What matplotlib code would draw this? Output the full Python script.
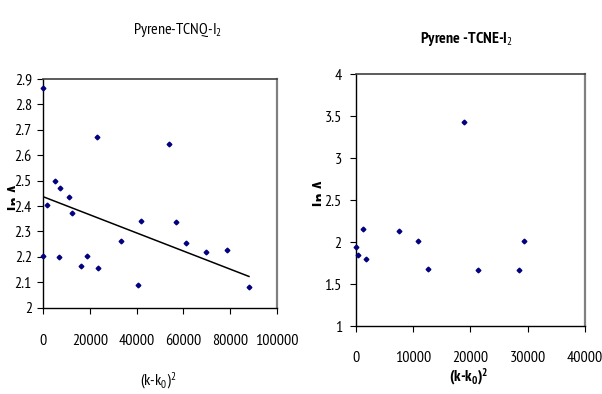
import matplotlib
matplotlib.use("Agg")
import matplotlib.pyplot as plt
from matplotlib import font_manager as fm
from matplotlib.patches import Rectangle

# ---------------- data ----------------
tcnq_x = [0, 0, 1570, 5280, 6990, 7420, 11130, 12410, 16400, 18830, 23110, 23680,
          33380, 40660, 41800, 53920, 56630, 60910, 69470, 78740, 88020]
tcnq_y = [2.866, 2.202, 2.404, 2.497, 2.199, 2.471, 2.434, 2.374, 2.165, 2.203, 2.670,
          2.156, 2.261, 2.089, 2.343, 2.645, 2.337, 2.253, 2.219, 2.226, 2.080]
tcnq_trend_x = [0, 88020]
tcnq_trend_y = [2.437, 2.123]

tcne_x = [0, 465, 1280, 1860, 7560, 10810, 12560, 18900, 21400, 28430, 29420]
tcne_y = [1.944, 1.845, 2.155, 1.798, 2.131, 2.012, 1.683, 3.433, 1.663, 1.671, 2.008]

left_xticks = [0, 20000, 40000, 60000, 80000, 100000]
left_xticklabels = ["0", "20000", "40000", "60000", "80000", "100000"]
left_yticks = [2.0, 2.1, 2.2, 2.3, 2.4, 2.5, 2.6, 2.7, 2.8, 2.9]
left_yticklabels = ["2", "2.1", "2.2", "2.3", "2.4", "2.5", "2.6", "2.7", "2.8", "2.9"]

right_xticks = [0, 10000, 20000, 30000, 40000]
right_xticklabels = ["0", "10000", "20000", "30000", "40000"]
right_yticks = [1, 1.5, 2, 2.5, 3, 3.5, 4]
right_yticklabels = ["1", "1.5", "2", "2.5", "3", "3.5", "4"]

left_title = "Pyrene-TCNQ-I$_2$"
right_title = "Pyrene -TCNE-I$_2$"
xlabel_text = "(k-k$_0$)$^2$"
ylabel_text = "ln A"

# ---------------- fonts ----------------
candidates = ["Arial Narrow", "Liberation Sans Narrow", "Archivo Narrow",
              "PT Sans Narrow", "Roboto Condensed", "IBM Plex Sans Condensed",
              "Liberation Sans"]


def _w(f):
    w = f.weight
    if isinstance(w, str):
        w = fm.weight_dict.get(w, 400)
    return w


def _has(name, bold):
    for f in fm.fontManager.ttflist:
        if f.name == name and f.style == "normal":
            w = _w(f)
            if (bold and w >= 600) or (not bold and 350 <= w <= 450):
                return True
    return False


chosen = "Liberation Sans"
for c in candidates:
    if _has(c, False) and _has(c, True):
        chosen = c
        break

plt.rcParams["font.family"] = [chosen, "Liberation Sans", "DejaVu Sans"]
plt.rcParams["mathtext.fontset"] = "custom"
plt.rcParams["mathtext.rm"] = chosen
plt.rcParams["mathtext.it"] = chosen
plt.rcParams["mathtext.bf"] = chosen + ":bold"

W, H = 602, 394
fig = plt.figure(figsize=(W / 100, H / 100), dpi=100)
fig.patch.set_facecolor("white")

MARK = "#000080"
FS = 11.5


def style_axes(ax):
    ax.spines["left"].set_color("black")
    ax.spines["bottom"].set_color("black")
    ax.spines["left"].set_linewidth(1.0)
    ax.spines["bottom"].set_linewidth(1.0)
    ax.spines["top"].set_color("#404040")
    ax.spines["top"].set_linewidth(1.2)
    ax.spines["right"].set_color("#808080")
    ax.spines["right"].set_linewidth(1.6)
    ax.tick_params(axis="both", direction="out", length=4, width=0.8,
                   color="black", labelsize=FS)


# ---------- left chart ----------
axL = fig.add_axes([43 / W, 1 - 307.7 / H, (277 - 43) / W, (307.7 - 79) / H])
axL.set_zorder(2)
axL.plot(tcnq_x, tcnq_y, linestyle="none", marker="D", markersize=2.4,
         color=MARK, zorder=3, clip_on=False)
axL.plot(tcnq_trend_x, tcnq_trend_y, color="black", linewidth=1.1, zorder=2)
axL.set_xlim(0, 100000)
axL.set_ylim(2, 2.9)
axL.set_xticks(left_xticks)
axL.set_xticklabels(left_xticklabels)
axL.set_yticks(left_yticks)
axL.set_yticklabels(left_yticklabels)
style_axes(axL)
axL.tick_params(axis="x", pad=15)
axL.tick_params(axis="y", pad=4)

fig.text(178 / W, 1 - 30 / H, left_title, ha="center", va="center", fontsize=FS)
fig.text(158 / W, 1 - 381 / H, xlabel_text, ha="center", va="center", fontsize=FS)
fig.text(8 / W, 1 - 197 / H, ylabel_text, rotation=90, ha="left", va="center",
         fontsize=14, fontweight="bold", zorder=0)
fig.patches.append(Rectangle((15 / W, 1 - 240 / H), 22 / W, 80 / H,
                             transform=fig.transFigure, facecolor="white",
                             edgecolor="none", zorder=1))

# ---------- right chart ----------
axR = fig.add_axes([355.7 / W, 1 - 326 / H, (585 - 355.7) / W, (326 - 74) / H])
axR.set_zorder(2)
axR.plot(tcne_x, tcne_y, linestyle="none", marker="D", markersize=2.4,
         color=MARK, zorder=3, clip_on=False)
axR.set_xlim(0, 40000)
axR.set_ylim(1, 4)
axR.set_xticks(right_xticks)
axR.set_xticklabels(right_xticklabels)
axR.set_yticks(right_yticks)
axR.set_yticklabels(right_yticklabels)
style_axes(axR)
axR.tick_params(axis="x", pad=14)
axR.tick_params(axis="y", pad=6)

fig.text(466 / W, 1 - 39 / H, right_title, ha="center", va="center", fontsize=11.5,
         fontweight="bold")
fig.text(469 / W, 1 - 377 / H, "$\\mathbf{(k}$-$\\mathbf{k_0)^2}$", ha="center",
         va="center", fontsize=FS, fontweight="bold")
fig.text(313 / W, 1 - 193 / H, ylabel_text, rotation=90, ha="left", va="center",
         fontsize=14, fontweight="bold", zorder=0)
fig.patches.append(Rectangle((321 / W, 1 - 235 / H), 20 / W, 80 / H,
                             transform=fig.transFigure, facecolor="white",
                             edgecolor="none", zorder=1))

fig.savefig("out.png", dpi=100, facecolor="white")
